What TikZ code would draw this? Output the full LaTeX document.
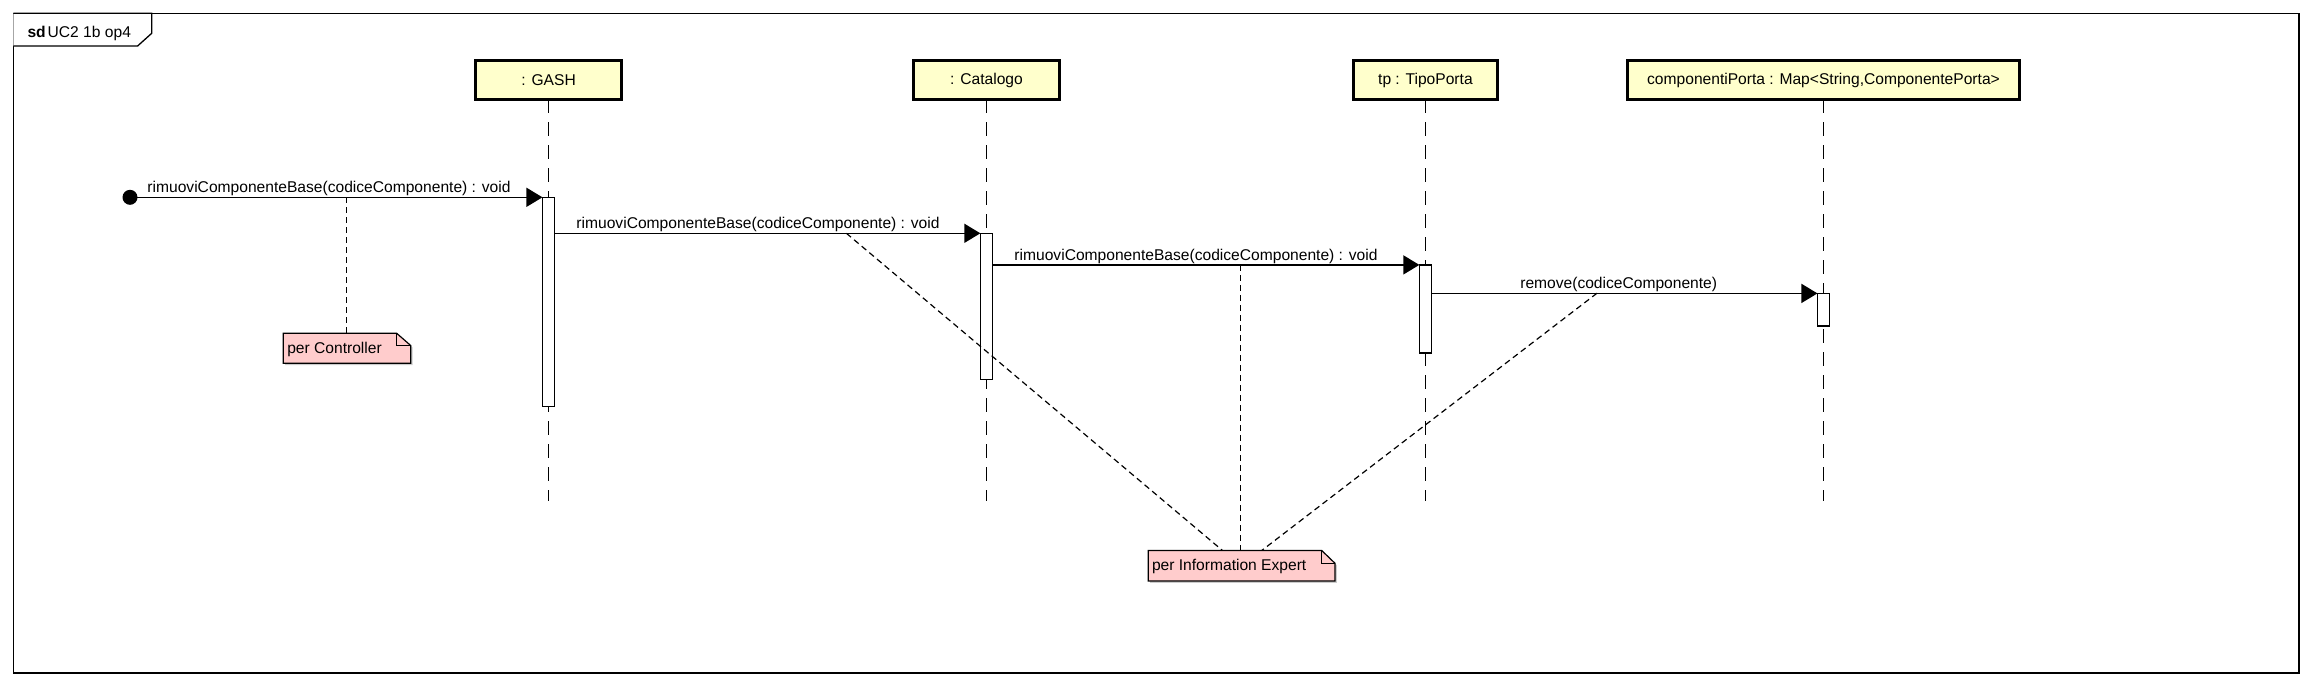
\documentclass[tikz,border=0pt]{standalone}
\usepackage{fontspec}
\setmainfont{Liberation Sans}
\usetikzlibrary{arrows.meta}
\definecolor{lifefill}{RGB}{255,255,204}
\definecolor{notefill}{RGB}{255,204,204}
\begin{document}
\begin{tikzpicture}[x=1pt,y=-1pt,
  every node/.style={font=\fontsize{15.6}{18}\selectfont, inner sep=0pt, outer sep=0pt},
  lifebox/.style={draw, line width=2.7pt, fill=lifefill, minimum height=38.7pt},
  lifeline/.style={line width=1.3pt, dash pattern=on 14pt off 9pt},
  act/.style={draw, line width=1.2pt, fill=white, minimum width=12.3pt, anchor=north},
  msg/.style={line width=1.3pt, -{Triangle[length=16pt,width=19pt]}},
  msglabel/.style={anchor=base},
  notelink/.style={line width=1.2pt, dash pattern=on 6pt off 4pt},
  noteshape/.style={draw, line width=1.2pt, fill=notefill, line join=miter},
  noteshadow/.style={fill=black!20},
  framestyle/.style={draw, line width=1.3pt}]

\useasboundingbox (0,0) rectangle (2314,686);

% frame
\draw[framestyle] (13.3,13.3) rectangle (2299,673);
\draw[framestyle, fill=white] (13.3,13.3) -- (151.7,13.3) -- (151.7,33.3) -- (137.6,46) -- (13.3,46);
\node[anchor=base west] (sdlabel) at (27.5,37) {\textbf{sd}\hspace{2pt}UC2 1b op4};

% lifeline heads
\node[lifebox, minimum width=145.8pt] (gash) at (548.6,80) {: GASH};
\node[lifebox, minimum width=145.5pt] (cat) at (986.5,80) {: Catalogo};
\node[lifebox, minimum width=143.8pt] (tp) at (1425.4,80) {tp : TipoPorta};
\node[lifebox, minimum width=392.5pt] (map) at (1823.5,80) {componentiPorta : Map<String,ComponentePorta>};

\coordinate (lend) at (0,501);
\draw[lifeline] (gash.south) -- (gash.south |- lend);
\draw[lifeline] (cat.south) -- (cat.south |- lend);
\draw[lifeline] (tp.south) -- (tp.south |- lend);
\draw[lifeline] (map.south) -- (map.south |- lend);

% activations
\node[act, minimum height=209pt] (a1) at (548.6,197.3) {};
\node[act, minimum height=146pt] (a2) at (986.5,233.3) {};
\node[act, minimum height=88pt] (a3) at (1425.5,264.9) {};
\node[act, minimum height=32.6pt] (a4) at (1823.6,293.4) {};

% messages
\node[circle, fill=black, minimum size=15pt] (dot) at (130,197.3) {};
\draw[msg] (dot.center) -- (a1.north west);
\draw[msg] (a1.east |- a2.north) -- (a2.north west);
\draw[msg] (a2.east |- a3.north) -- (a3.north west);
\draw[msg] (a3.east |- a4.north) -- (a4.north west);

\node[msglabel] (m1) at (329,192.5) {rimuoviComponenteBase(codiceComponente) : void};
\node[msglabel] (m2) at (758,228.5) {rimuoviComponenteBase(codiceComponente) : void};
\node[msglabel] (m3) at (1196,260) {rimuoviComponenteBase(codiceComponente) : void};
\node[msglabel] (m4) at (1618.7,288.5) {remove(codiceComponente)};

% note: per Controller
\fill[noteshadow, shift={(1.8,1.8)}] (283.3,333.3) -- (396.7,333.3) -- (410.7,345.5) -- (410.7,363.3) -- (283.3,363.3) -- cycle;
\draw[noteshape] (283.3,333.3) -- (396.7,333.3) -- (410.7,345.5) -- (410.7,363.3) -- (283.3,363.3) -- cycle;
\draw[line width=1.2pt] (396.7,333.3) -- (396.7,345.5) -- (410.7,345.5);
\node[anchor=base west] (nc) at (287.3,353.3) {per Controller};
\coordinate (ncTop) at (346.4,333.3);

% note: per Information Expert
\fill[noteshadow, shift={(1.8,1.8)}] (1148.3,550.5) -- (1321.7,550.5) -- (1335,563.3) -- (1335,581) -- (1148.3,581) -- cycle;
\draw[noteshape] (1148.3,550.5) -- (1321.7,550.5) -- (1335,563.3) -- (1335,581) -- (1148.3,581) -- cycle;
\draw[line width=1.2pt] (1321.7,550.5) -- (1321.7,563.3) -- (1335,563.3);
\node[anchor=base west] (nie) at (1152,570.7) {per Information Expert};
\coordinate (nieA) at (1222.5,550.5);
\coordinate (nieB) at (1240.5,550.5);
\coordinate (nieC) at (1261.7,550.5);

% note links
\coordinate (l1) at (346.4,197.3);
\coordinate (l2) at (846.4,233.3);
\coordinate (l3) at (1240.5,264.9);
\coordinate (l4) at (1597,293.2);
\draw[notelink] (l1) -- (ncTop);
\draw[notelink] (l2) -- (nieA);
\draw[notelink] (l3) -- (nieB);
\draw[notelink] (l4) -- (nieC);
\end{tikzpicture}
\end{document}
